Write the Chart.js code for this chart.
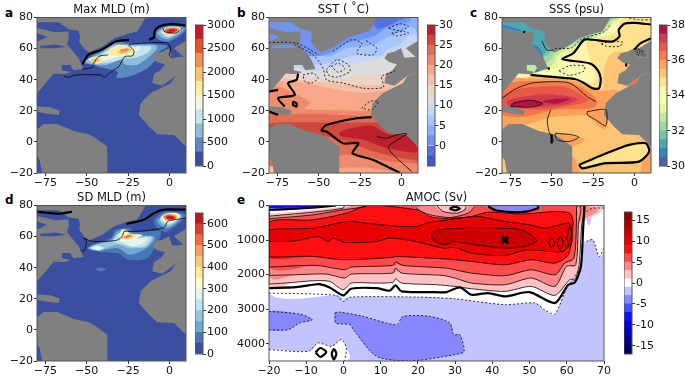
<!DOCTYPE html>
<html>
<head>
<meta charset="utf-8">
<style>
  html, body { margin: 0; padding: 0; background: #fff; overflow: hidden; }
  canvas { position: absolute; }
  .tag { position: absolute; font: bold 12px "DejaVu Sans"; color: #000; }
</style>
<script src="https://cdn.jsdelivr.net/npm/chart.js@4"></script>
</head>
<body>
<div class="tag" style="left:5px;top:6px">a</div>
<div class="tag" style="left:237px;top:6px">b</div>
<div class="tag" style="left:470px;top:6px">c</div>
<div class="tag" style="left:5px;top:193px">d</div>
<div class="tag" style="left:237px;top:193px">e</div>
<script>
// ---- axis values
const mapLonTicks = [-75, -50, -25, 0];
const mapLatTicks = [-20, 0, 20, 40, 60, 80];
const amocLatTicks = [-20, -10, 0, 10, 20, 30, 40, 50, 60, 70];
const amocDepthTicks = [0, 1000, 2000, 3000, 4000];

// ---- colour bar levels and ticks
const mldMaxLevels = [0, 300, 600, 900, 1200, 1500, 1800, 2100, 2400, 2700, 3000];
const mldMaxTicks = [0, 500, 1000, 1500, 2000, 2500, 3000];
const sstLevels = [-5, -2.5, 0, 2.5, 5, 7.5, 10, 12.5, 15, 17.5, 20, 22.5, 25, 27.5, 30];
const sstTicks = [0, 5, 10, 15, 20, 25, 30];
const sssLevels = [30, 30.5, 31, 31.5, 32, 32.5, 33, 33.5, 34, 34.5, 35, 35.5, 36, 36.5, 37, 37.5, 38];
const sssTicks = [30, 32, 34, 36, 38];
const mldSdLevels = [0, 50, 100, 150, 200, 250, 300, 350, 400, 450, 500, 550, 600, 650];
const mldSdTicks = [0, 100, 200, 300, 400, 500, 600];
const amocLevels = [-17, -15, -13, -11, -9, -7, -5, -3, -1, 1, 3, 5, 7, 9, 11, 13, 15, 17];
const amocTicks = [-15, -10, -5, 0, 5, 10, 15];

const mldMaxColors = ['#3b4fa0', '#5a8ac0', '#8fbcdc', '#c6e3ee', '#f0f8dc', '#fdeda3', '#fdbf70', '#f98e52', '#e5502f', '#c41a2b'];
const sstColors = ['#4055c8', '#5572df', '#6f92f3', '#8db0fe', '#aac7fd', '#c6d6f1', '#dddcdc', '#ebd3c6', '#f5c0a7', '#f7a889', '#f08a6c', '#e36c55', '#d0473d', '#bd1f2d'];
const sssColors = ['#5061aa', '#3585bb', '#4fa8b0', '#73c7a5', '#9ed8a4', '#c5e89f', '#e8f59a', '#f7fcb3', '#fff5af', '#fee28e', '#fdc473', '#fba25b', '#f67949', '#e65848', '#d3394f', '#af1446'];
const mldSdColors = ['#3b4fa0', '#4879b6', '#70a9d0', '#96c6e0', '#bfe3ee', '#e3f4ef', '#fbfdce', '#feeb9f', '#fdc679', '#fb9f5a', '#f26d43', '#dc3f2d', '#bf1528'];
const amocColors = ['#000061', '#00008b', '#0000b5', '#0000e0', '#0f0fff', '#4b4bff', '#8787ff', '#c3c3ff', '#ffffff', '#ffc3c3', '#ff8787', '#ff4b4b', '#ff0f0f', '#e80000', '#ca0000', '#ac0000', '#8e0000'];

// ---- land shared by the maps, [lon, lat]
const landParts = [
  [[-80,80],[-14.4,80],[-19.4,71],[-23.5,70],[-32.7,67],[-40.7,61.2],[-48.5,57.5],[-51.5,60],[-54.5,64.4],[-54,67.6],[-55,71.5],[-60.8,72.5],[-66.9,77],[-80,77]],
  [[-80,73.3],[-69,70.5],[-61,71],[-60.8,66.6],[-61.9,62.8],[-54.9,53.8],[-51.9,46.9],[-58,46],[-60,49.5],[-65,49.5],[-65,46],[-60,45],[-62.9,43.5],[-70,44],[-73,40],[-80,31.2]],
  [[-80,22.7],[-72,22.3],[-66.3,20],[-66.9,17.3],[-76,18.4],[-80,19.5]],
  [[-80,8],[-76,11.5],[-67.9,11.5],[-57.8,7],[-48.7,5],[-44.6,2.3],[-37.6,-3],[-37.6,-20],[-77,-20],[-78.4,-11.6],[-80,-9.5]],
  [[10,45],[3.8,42.6],[0.7,37.7],[-4.3,35.1],[-11.4,31.3],[-17.4,24.8],[-18.5,17.3],[-12.3,9.8],[-7.3,4.9],[2.8,4.5],[8.9,-2],[10,-3]],
  [[10,65],[2.7,60.2],[8.4,54.8],[1.8,54.1],[-0.3,60.2],[-4.3,58],[-8.3,57],[-10.3,53.8],[-7.3,51.2],[-2.7,49.9],[-5.3,46.2],[-9.4,43.5],[-10.3,37.7],[-4.3,36.1],[3.8,42.6],[10,45]]
];
// inland water that panel c leaves empty
const hudsonParts = [
  [[-80,69.8],[-73.9,67.6],[-79,64.9],[-80,65]],
  [[-78,61.9],[-69,62.7],[-62,61.2],[-69,60.2],[-78,60.2]]
];
const northSeaPart = [[2.7,60.2],[8.4,54.8],[1.8,54.1],[-0.3,60.2]];
const northSeaMarks = [
  [[1.5,59],[5,57.5],[7,55.5]], [[0.5,58],[4,56.5],[6,55]], [[1,56.5],[3,55.5]], [[2,60],[6,58]]
];

// ---- a, max mixed layer depth: [band, outline]
const mldMaxAreas = [
  [1, [[-51.7,50.6],[-45.7,56],[-37.6,61.4],[-31.5,64.6],[-24.4,63.5],[-13.3,63.5],[-5.3,62.4],[-1.2,61.4],[-7.3,57.1],[-8.3,52.8],[-13.3,47.4],[-21.4,43.1],[-31.5,41],[-31.5,45.3],[-39.6,47.4],[-47.7,49.9]]],
  [1, [[-9.3,70],[-3.2,74.2],[4.8,74.6],[10,73.2],[6.9,68.9],[-0.2,64.6],[-6.3,65.7]]],
  [2, [[-50.7,52.1],[-41.6,57.1],[-33.5,62.4],[-24.4,62.4],[-11.3,62.4],[-7.3,60.3],[-13.3,53.9],[-19.4,49.6],[-26.5,49.6],[-29.5,52.8],[-37.6,49.6],[-45.7,49.6]]],
  [2, [[-7.3,70],[-2.2,73.8],[4.8,74.2],[8.5,72.5],[3.8,68.2],[-2.2,66.1]]],
  [3, [[-49.3,53.2],[-41.6,56],[-35.6,60.3],[-27.5,62.4],[-21.4,61.4],[-11.3,61.4],[-13.3,57.1],[-21.4,53.9],[-26.5,53.9],[-35.6,51],[-43.6,50.6]]],
  [3, [[-5.3,71],[-1.2,73.8],[4.8,73.8],[7.3,72.1],[2.8,68.9],[-1.2,67.4]]],
  [4, [[-48.7,53.2],[-41.6,54.9],[-35.6,59.2],[-30.5,62.4],[-24.4,60.3],[-17.4,61.4],[-22.4,56],[-31.5,54.5],[-37.6,52.8],[-43.6,51.1]]],
  [4, [[-4.2,71.5],[4.8,73.6],[6.9,71.6],[-0.2,68.2]]],
  [5, [[-48.3,53.6],[-42.9,54.6],[-39.9,51.9],[-44.9,50.3]]],
  [5, [[-37.6,58.2],[-30.5,62.4],[-24.4,60.3],[-20.4,59.2],[-22.4,57.1],[-31.5,54.9]]],
  [5, [[-3.8,72],[4.8,73.4],[6,71.6],[-0.2,68.9]]],
  [6, [[-47.7,53.2],[-44.7,53.6],[-41.6,52.4],[-45.7,51.1]]],
  [6, [[-31.5,58.2],[-26.5,60.3],[-22.4,59.2],[-26.5,57.1],[-30.5,56.7]]],
  [6, [[-3.6,72],[0.8,73.8],[5.9,73.2],[4.8,71],[-1.2,68.9]]],
  [7, [[-29.9,59.2],[-25.4,60],[-24.4,59.2],[-28.5,57.5]]],
  [7, [[-3.2,72],[4.8,73.2],[5.3,71.5],[-0.2,69.5]]],
  [8, [[-2.2,72.6],[3.8,73],[4.4,71],[-0.2,69.9]]],
  [9, [[-0.6,72],[2.8,72.5],[3.2,71.2],[0.4,70.6]]]
];
const mldMaxHeavy = [
  [[-52.7,49.8],[-49.3,55.8],[-47.7,56.9],[-41.6,59],[-37.6,61.4],[-32.5,64.6],[-24.4,65.7]],
  [[-12.3,65.7],[-9.3,67.2],[-8.9,71],[-6.3,74.2],[0.8,75.7],[9.9,74.9]]
];
const mldMaxThin = [
  [[-63.8,42.3],[-60.8,41.5],[-56.8,43],[-41.6,43],[-39.2,41.5],[-37.6,43],[-33.5,46.3],[-30.5,48.5],[-27,54.9],[-22.4,55.3],[-21.4,58.5],[-24.4,62.4],[-15.4,63.5],[-1.2,63.5],[0.8,59.2],[-0.2,56],[1.8,53.9]],
  [[-52.7,46.8],[-46.7,47.9],[-45.7,50.6],[-42.6,55],[-37,56]],
  [[-3.9,73],[-3.2,71],[3.8,70],[7.9,73]]
];

// ---- b, sea surface temperature
const sstAreas = [
  [1, [[-17,80],[-14.9,73],[-8.9,74.2],[-0.8,78.5],[3.2,80]]],
  [3, [[-53.3,54.9],[-43.2,57.1],[-33.1,63.5],[-17,67.8],[-8.9,73.2],[3.2,76.4],[10,74.7],[10,-20],[-80,-20],[-80,55]]],
  [4, [[-80,50],[-51.3,54.9],[-43.2,54.9],[-33.1,60.3],[-23,61.4],[-14.9,63.5],[-6.9,67.8],[10,68.2],[10,-20],[-80,-20]]],
  [5, [[-80,45],[-52.3,49.6],[-43.2,50.6],[-31.1,54.9],[-23,56],[-12.9,54.9],[-8.9,59.2],[-2.8,61.4],[10,64.6],[10,-20],[-80,-20]]],
  [6, [[-80,45],[-53.3,45.3],[-43.2,47.4],[-27.1,50.6],[-17,52.8],[-4.8,54.9],[10,56],[10,-20],[-80,-20]]],
  [7, [[-80,42],[-63.4,43.1],[-53.3,41],[-37.2,41],[-23,43.1],[-6.9,44.2],[10,47.4],[10,-20],[-80,-20]]],
  [8, [[-80,38],[-71.5,41],[-62.4,39.9],[-43.2,37.8],[-23,36.7],[-8.9,36.7],[6.3,42.5],[10,43],[10,-20],[-80,-20]]],
  [9, [[-80,34],[-69.5,38.5],[-61.4,38.5],[-43.2,34.5],[-23,31.5],[10,31.5],[10,-20],[-80,-20]]],
  [10, [[-80,33],[-63.4,30.5],[-55.4,24.8],[-58.4,21],[-43.2,20.5],[-19,20],[10,20],[10,-20],[-80,-20]]],
  [11, [[-80,19],[-67.5,18],[-47.3,18],[-19,16.5],[10,16.5],[10,-20],[-80,-20]]],
  [12, [[-80,11],[-73.5,12.5],[-47.3,12.5],[-19,12.5],[10,12.5],[10,-11],[8.3,-12],[-8.9,-8.5],[-23,-4],[-34.1,0.5],[-43.2,3],[-54,4.5],[-80,5]]],
  [13, [[-36,7],[-19,10.5],[-8.9,5.5],[3.2,5.5],[9.5,-6.5],[-8.9,-4],[-23,1.5],[-36,3.5]]],
  [10, [[-39,-9.4],[-23,-8.9],[-8.9,-12.5],[10,-14.5],[10,-20],[-40,-20]]],
  [9, [[-38.2,-17],[-23,-16.5],[-8.9,-18.5],[-2.8,-20],[-40,-20]]],
  [8, [[-80,-16],[-75,-16],[-70,-20],[-80,-20]]]
];
const sstHeavy = [
  [[-62.4,43.8],[-63.4,39.9],[-68.5,37.8],[-64.4,30.3],[-74.5,28.1],[-70.5,22.7]],
  [[-80,32.4],[-74.5,33.5]],
  [[-65.5,26],[-63.4,24.9],[-63.4,22.7],[-65.5,23.8],[-65.5,26]],
  [[-80,19.5],[-74.5,17.4]],
  [[-18,15.9],[-27,15.2],[-45.3,10.9],[-48.3,7.3],[-45.3,6.7],[-35.2,-0.9],[-26,-0.9],[-29.5,-7.3],[-17,-11.6],[-0.8,-20]]
];
const sstThin = [
  [[-14.9,3.4],[-8.9,2.4],[-2.8,4.5],[3.2,5.2],[-7.9,-3],[-4.8,-8.4],[6.3,-19.1]]
];
const sstDashed = [
  [[-42.2,48.5],[-38.2,50.6],[-34.1,47.4],[-38.2,44.8],[-42.2,48.5]],
  [[-45.3,46.4],[-39.2,52.8],[-32.1,49.6],[-31.1,45.3],[-39.2,41.6],[-44.2,43.1],[-45.3,46.4]],
  [[-64.4,62.4],[-53.3,56],[-47.3,47.4],[-45.3,39.9],[-35.2,37.8],[-23,34.5],[-10.9,35.2],[-11.9,42.1],[-3.8,45.3]],
  [[-41.2,58.2],[-30.1,65.7],[-24,63.5],[-27,57],[-17,56],[-14.9,60.3],[-19,63.5],[-22,65.7]],
  [[-59.4,43.1],[-53.4,44.2],[-50.3,41],[-54.3,37.8],[-58.4,38.9],[-59.4,43.1]],
  [[-7.9,73.2],[-0.8,75.9],[4.2,74.2],[-0.8,71.5],[-7.9,73.2]],
  [[-5.9,70],[1.2,71],[4.2,70],[-2.8,68.2],[-5.9,70]],
  [[-24,21.7],[-19,26],[-13.9,26],[-18,20.6],[-24,21.7]],
  [[-80,64],[-63.4,63.5],[-50,56]]
];

// ---- c, sea surface salinity
const sssAreas = [
  [9, [[-62.7,43.1],[-39.5,41],[-25.4,34.5],[-19.4,34.5],[-18.3,47.4],[-13.3,57],[0.8,59.2],[10.3,66.7],[10,80],[-80,80],[-80,43]]],
  [8, [[-62.7,43.1],[-31.5,38.8],[-24.4,37.8],[-23.4,45.3],[-26.4,52.8],[-28.4,64.6],[-11.3,70],[-8.3,78.5],[-7.7,80],[-80,80],[-80,43]]],
  [7, [[-62.7,43.1],[-44.8,42.4],[-32.7,39.8],[-28.3,39.8],[-30.7,45.2],[-40.8,51.6],[-45.2,53.7],[-34.7,61.2],[-29.7,65.5],[-13.3,71],[-11.3,79.6],[-11,80],[-80,80],[-80,43]]],
  [6, [[-60.9,44.7],[-46.8,48.4],[-44.8,53.7],[-37.8,59],[-29.7,63.4],[-21.6,68.7],[-15,75],[-12,80],[-80,80],[-80,45]]],
  [5, [[-56.9,46.3],[-49.8,49.5],[-46.8,54.8],[-41.8,59],[-31.7,63.4],[-19,70],[-13.5,77.5],[-13,80],[-80,80],[-80,47]]],
  [4, [[-54.9,50.6],[-49.8,53.8],[-46.8,58],[-33.7,64.4],[-21,70],[-15,77.5],[-14,80],[-80,80],[-80,51]]],
  [3, [[-54.9,54.9],[-50.8,58],[-47.8,60.2],[-34.7,66.2],[-23,71],[-17,78],[-16,80],[-80,80],[-80,55]]],
  [2, [[-80,80],[-53,75],[-54,66],[-52,60],[-57,55],[-64,60],[-80,60]]],
  [1, [[-61.9,62.8],[-57,60],[-55,54],[-57,55],[-63,60]]],
  [1, [[-80,73.5],[-69,71],[-66,70.5],[-70,72.5],[-80,75.5]]],
  [1, [[-59,47],[-55,48.5],[-54,47],[-60,44.5]]],
  [8, [[-70,44.5],[-64,44.5],[-64,41.5],[-70,41.5]]],
  [11, [[-80,41],[-69.8,41],[-39.5,40],[-21.4,33],[-10,33],[-19.4,20.6],[-27.4,17.4],[-47.6,16.3],[-59.7,13],[-80,8.8]]],
  [11, [[-29.4,19.5],[-17.3,19.5],[-17.3,9],[-21.4,10]]],
  [11, [[-47.6,5.6],[-33.5,3],[-30,1],[-38,-3],[-48,1]]],
  [11, [[-42,-9],[-37,-9.4],[-33,-20],[-42,-20]]],
  [11, [[6,-6],[10,-4],[10,-20],[4,-20]]],
  [9, [[-33.5,-14.8],[-19.4,-8.4],[-3.2,-1.9],[6.9,-0.9],[8.9,-6.2],[2.8,-12.7],[-17.3,-13.7],[-31.5,-17]]],
  [12, [[-80,33.5],[-69.8,38.8],[-39.5,37.8],[-24.4,29.2],[-23.4,22.7],[-30.4,21],[-47.6,20.6],[-64.7,16.3],[-74.8,16.3],[-80,18.5]]],
  [12, [[-4.3,35.6],[3.8,42.6],[5,37]]],
  [13, [[-80,29.2],[-67.7,34.5],[-43.5,35.6],[-30.4,29.2],[-28.4,26],[-41.5,22.7],[-55.6,20.6],[-71.8,21.7],[-80,22.7]]],
  [14, [[-75.8,27],[-55.6,30.7],[-39.5,29.2],[-34.5,27],[-43.5,23.8],[-61.7,22.3],[-74.8,22.7]]],
  [15, [[-73.8,24.9],[-61.7,26.4],[-55.6,24.9],[-61.7,23.2],[-73,23]]],
  [15, [[-55.2,26],[-47.6,27.7],[-38.5,27.7],[-47.6,24.5]]]
];
const sssHeavy = [
  [[-62.7,43.1],[-47.6,41.6],[-35.5,40.3],[-30.4,37.8],[-25.4,34.5],[-21.4,34.5],[-20.4,41],[-22.4,46.4],[-27,50.5],[-43.5,53.2],[-37,57],[-30.4,65.7],[-25,65.7],[-13.3,64.5],[-9,68],[-9.5,72],[-6,76],[0,76.5],[10,75.5]],
  [[10.3,66.7],[3.8,63.5],[-0.2,59.2]],
  [[-33.5,-14.8],[-19.4,-8.4],[-3.2,-1.9],[6.9,-0.9],[8.9,-6.2],[2.8,-12.7],[-17.3,-13.7],[-31.5,-17],[-33.5,-14.8]],
  [[-52,48],[-51.5,46.5]],
  [[-67,71],[-66,70.5]],
  [[-5,50.5],[-5,48.5]],
  [[-50,5],[-50,-1]]
];
const sssThin = [
  [[-80,28],[-72,34],[-61,38],[-39.5,38],[-28.4,29],[-23.4,26]],
  [[-74.8,22.7],[-72.8,25],[-62.7,26.8],[-55.4,24.7],[-62,22.5],[-74.8,22.7]],
  [[-28.4,19.5],[-17.3,20.6],[-17.3,10.4],[-23.4,14.2],[-28.4,17.4],[-28.4,19.5]],
  [[-47.6,5.6],[-37.5,4.5],[-33.5,3],[-39.5,0.2],[-46.6,1.3],[-48,4.5],[-47.6,5.6]],
  [[-50.6,20.6],[-52.6,14.2],[-51.6,6.7],[-48.6,0.2]],
  [[-56,65],[-53,59.2],[-49,59]]
];
const sssDashed = [
  [[-45.6,45.6],[-39.5,48.9],[-30.4,48.9],[-30.4,45.6],[-39.5,42.8],[-45.6,45.6]],
  [[-48,60],[-38,60.5],[-32,66],[-18,71],[-14,76]],
  [[-20,63],[-14,64.8],[-7,64],[-9,61.5],[-17,61.5],[-20,63]],
  [[-3,79.5],[3,78.5],[10,78.5]]
];

// ---- d, standard deviation of mixed layer depth
const mldSdAreas = [
  [1, [[-49.3,52],[-46.7,54.7],[-35.6,59],[-32.5,64.4],[-24.4,65.5],[-21.4,63.3],[-13.3,63.3],[-5.3,63.3],[-7.3,55.8],[-12.3,47.2],[-17.4,45],[-25.5,45.5],[-31.5,49.4],[-41.6,50]]],
  [1, [[-44.6,39],[-41.6,40.1],[-38,39],[-41.6,37.6]]],
  [1, [[-9.3,70.8],[-3.2,75.8],[4.8,75.8],[10.1,73],[-1.2,63.3],[-7.3,65.5]]],
  [2, [[-48.7,52.2],[-46.7,54.3],[-35.6,57.9],[-31.5,63.3],[-25.5,64.4],[-21.4,61.2],[-9.3,60],[-11.3,54.7],[-17.4,50.5],[-24.4,48.4],[-31.5,52.6],[-41.6,51]]],
  [2, [[-7.3,70.8],[-2.2,75.2],[4.8,75.2],[7.9,72.4],[-0.2,65.5],[-5.7,67.2]]],
  [3, [[-48.1,52.2],[-45.7,54.3],[-34.5,57.3],[-30.5,62.2],[-25.5,63.3],[-22.4,60],[-10.3,60],[-13.3,53.6],[-19.4,52.6],[-25.5,52.6],[-31.5,54.7],[-41.6,51.5]]],
  [3, [[-5.7,71.5],[-1.2,74.7],[4.8,74.7],[6.9,72.4],[0.8,67.2],[-4.2,68]]],
  [4, [[-47.7,52.6],[-43.6,54.3],[-39.6,52.6],[-42.6,50.9]]],
  [4, [[-34.5,56.8],[-30.5,62.2],[-25.5,62.2],[-22.4,59],[-11.3,59.4],[-15.4,53.6],[-22.4,53.6],[-31.5,55.8]]],
  [4, [[-5.3,72],[4.8,74.3],[6.5,72.4],[0.8,68],[-3.2,68.7]]],
  [5, [[-47.3,52.6],[-43.6,53.9],[-40.6,52.6],[-43,51.3]]],
  [5, [[-30.5,59],[-29.9,62.2],[-25.9,62.2],[-22.4,58.6],[-13.3,59.4],[-16.4,55.8],[-22.4,53.6],[-28.5,56.9]]],
  [5, [[-4.8,72.8],[4.8,74],[5.9,72.4],[0.8,68.7],[-3.2,69.7]]],
  [6, [[-29.9,62.2],[-25.9,63.7],[-24.4,61.2],[-27.5,59.4]]],
  [6, [[-29.5,59],[-24.4,61.6],[-16.4,61.2],[-22.4,58],[-28.5,56.9]]],
  [6, [[-4.6,73],[-0.2,75],[5.3,74.7],[4.8,70.8],[-2.2,69.7]]],
  [7, [[-29,64.4],[-26.5,64.4],[-25.9,62.2],[-29.1,61.2]]],
  [7, [[-28.9,59],[-24.4,61.8],[-19.4,61.2],[-23.4,58.6],[-27.9,57.9]]],
  [7, [[-4.2,73],[-0.2,74.7],[4.8,74],[4.4,71.2],[-2.2,70]]],
  [8, [[-28.5,59.4],[-24.4,61.6],[-21.4,61.2],[-24.4,59],[-27.9,58.5]]],
  [8, [[-3.8,73],[-0.2,74.5],[4.4,73.8],[4,71.2],[-1.8,70.4]]],
  [9, [[-27.9,59.6],[-24.4,61],[-22.4,60.7],[-24.8,59]]],
  [9, [[-3.6,73],[-0.2,74.3],[4,73.4],[3.6,71.2],[-1.8,70.6]]],
  [10, [[-27.5,59.9],[-24.4,60.9],[-23.4,60.5],[-25.5,59.2]]],
  [10, [[-3.2,73],[-0.2,74],[3.6,73.2],[3.2,71.2],[-1.6,70.8]]],
  [11, [[-2.2,73.2],[-0.2,73.6],[3.2,72.4],[2.8,71.2],[-1.2,71]]],
  [12, [[-1.2,72.9],[2.4,72.9],[2.2,71.4],[-0.8,71.6]]]
];
const mldSdHeavy = [
  [[-80,76],[-66.9,74.7],[-58.8,76]],
  [[-25.9,68.2],[-15.4,70.8],[-9.3,75.1],[-3.2,77.3],[9.9,77.3]]
];
const mldSdThin = [
  [[-53.7,51.5],[-51.7,50.4],[-50.1,56.9],[-51.7,59],[-46.7,56.9],[-32.5,57.5],[-28.5,60],[-27.5,63.3],[-24.4,63.3],[-15.4,63.7],[-3.2,65.9],[-1.2,69.7],[2.8,70.8],[10.1,71.9]]
];

// ---- e, overturning streamfunction: [band, outline], [lat, depth]
const amocAreas = [
  [8, [[-20,0],[70,0],[70,1233],[68.7,1474],[67,992],[65.3,1040],[64.4,1137],[63,1908],[60,2390],[56.8,3141],[54,3016],[51.4,2820],[43.4,2870],[29.9,2700],[20,2650],[2,2650],[-0.1,2775],[-2,2600],[-20,2534]]],
  [6, [[-20,3064],[-11.8,3141],[-8.4,3305],[-11.8,3402],[-14.9,3594],[-20,3594]]],
  [6, [[-2.3,3112],[-1,3083],[5.3,3209],[14.2,3450],[16,3209],[23.2,3209],[28.6,3402],[29.6,3739],[31.3,3739],[32.4,4220],[29.9,4317],[17.8,4500],[8.9,4365],[3,3642],[1.7,3450],[-2,3402]]],
  [8, [[-20,4172],[-9.5,4220],[-6.8,3979],[-3.2,4076],[-0.6,3883],[0.8,4124],[0.3,4500],[-20,4500]]],
  [7, [[64.4,0],[65.3,173],[67,77],[70,77],[70,0]]],
  [7, [[65.3,173],[67,100],[66.2,540],[65.5,511]]],
  [9, [[-20,2274],[-13.5,2226],[-8.2,2178],[-3.7,2197],[-0.1,2438],[2.1,2245],[8.9,2245],[13.3,2226],[14,2120],[15.6,2245],[25,2293],[29.9,2341],[34.4,2409],[43.4,2486],[50.5,2341],[56.8,2602],[60.8,2149],[62.2,2149],[63.3,1715],[64,559],[64.4,0],[-20,0]]],
  [10, [[-20,2024],[-12.7,2004],[-4.6,1985],[0.3,2100],[2.1,1985],[13.3,1956],[14,1812],[15.6,1956],[26.8,2024],[29.9,2100],[34.4,2245],[43.4,2293],[50.5,2100],[56.8,2341],[59.9,1763],[62.4,1715],[63.1,559],[63.3,0],[-20,0]]],
  [11, [[-20,1783],[-7.3,1734],[0.3,1860],[2.1,1783],[13.3,1734],[14,1638],[16,1734],[27.7,1812],[29.9,1860],[34.4,1956],[43.4,2033],[50.5,1860],[56.8,2004],[59.5,1667],[61.9,1522],[62.6,559],[62.6,77],[62.6,0],[-20,0]]],
  [12, [[-20,1494],[-8.2,1474],[-0.1,1571],[13.3,1503],[14,1474],[27.7,1551],[29.9,1571],[34.4,1619],[43.4,1715],[50.5,1571],[56.8,1667],[60.4,1426],[61.5,752],[61.7,463],[60.8,222],[56.8,173],[47.8,250],[38.9,193],[34.4,318],[29.9,366],[23.2,270],[19.6,125],[9.8,0],[5.3,29],[0.8,222],[-8.2,414],[-20,491]]],
  [13, [[-20,1041],[-12.7,1021],[-6.8,896],[-4.1,1041],[-2.8,944],[0.3,1070],[8.9,1041],[12.4,944],[19.6,1041],[26.8,1233],[29.9,1214],[34.4,1378],[43.4,1445],[49.2,1282],[59,1330],[60.8,1041],[61.3,703],[60.4,511],[54.1,655],[50,559],[43.4,463],[35.8,318],[25,463],[22.3,511],[19.6,607],[15.1,607],[6.2,511],[1.2,463],[-8.2,655],[-20,723]]],
  [14, [[25.4,703],[31.2,655],[36.2,636],[41.6,655],[47.8,703],[51.9,1012],[48.8,1185],[43.4,1233],[35.3,1137],[29.9,1041],[26.8,1137],[23.6,925]]],
  [10, [[19.6,77],[23.2,318],[27.7,366],[33.5,222],[35.3,29],[35.3,0],[23.2,0]]],
  [9, [[25,0],[26.8,173],[30.4,222],[32.6,125],[33,0]]],
  [6, [[38.9,0],[41.1,145],[47.8,193],[52.3,77],[52.3,0]]],
  [10, [[-20,385],[-8.2,270],[-0.1,125],[6.2,29],[6.2,0],[-20,0]]],
  [9, [[-20,308],[-8.2,193],[-0.1,77],[0.3,0],[-20,0]]],
  [8, [[-20,231],[-8.2,125],[-0.1,29],[-0.1,0],[-20,0]]],
  [6, [[-20,154],[-8.2,77],[-1.9,0],[-20,0]]],
  [4, [[-20,77],[-12.7,58],[-3.7,0],[-20,0]]]
];
const amocHeavy = [
  [[-20,2390],[-12.7,2361],[-8.2,2293],[-6.4,2274],[-3.7,2370],[-0.1,2602],[2.1,2409],[8.9,2390],[12.4,2467],[14,2313],[15.6,2486],[23.2,2505],[27.7,2505],[31.3,2370],[34.4,2582],[38.9,2534],[43.4,2631],[50,2505],[56.8,2823],[60.4,2293],[62.2,2226],[63.8,1763],[64.4,655],[64.7,77],[64.7,0]],
  [[-7.5,4250],[-6.2,4124],[-4.6,4240],[-6.2,4384],[-7.5,4250]],
  [[-3.2,4288],[-2.6,4153],[-1.9,4288],[-2.6,4461],[-3.2,4288]],
  [[38.9,29],[41.1,145],[47.8,193],[52.3,77],[52.3,0]],
  [[28.5,96],[29.9,30],[31.3,96],[29.9,140],[28.5,96]],
  [[-20,130],[-8.2,60],[-2,0]]
];
const amocThin = [
  [[55.1,1089],[55.9,944],[56.7,1089],[55.9,1214],[55.1,1089]],
  [[57.4,1089],[58.2,877],[59,1089],[58.2,1300],[57.4,1089]],
  [[60,950],[60.8,620],[61.5,950],[60.8,1230],[60,950]],
  [[19.6,77],[23.2,318],[27.7,366],[33.5,222],[35.3,29]],
  [[25,0],[26.8,173],[30.4,222],[32.6,125],[33,0]],
  [[-20,385],[-8.2,270],[-0.1,125],[6.2,29],[6.2,0]],
  [[-20,308],[-8.2,193],[-0.1,77],[0.3,0]]
];
const amocDashed = [
  [[-20,2534],[-2,2600],[-0.1,2775],[2,2650],[20,2650],[29.9,2700],[43.4,2870],[51.4,2820],[54,3016],[56.8,3141],[60,2390],[63,1908]],
  [[65.3,1040],[67,992],[68.7,1474],[70,1233]],
  [[65.3,173],[67,77],[70,77]],
  [[-20,3064],[-11.8,3141],[-8.4,3305],[-11.8,3402],[-14.9,3594],[-20,3594]],
  [[-2.3,3112],[-1,3083],[5.3,3209],[14.2,3450],[16,3209],[23.2,3209],[28.6,3402],[29.6,3739],[31.3,3739],[32.4,4220],[29.9,4317],[17.8,4500],[8.9,4365],[3,3642],[1.7,3450],[-2,3402],[-2.3,3112]],
  [[-20,4172],[-9.5,4220],[-6.8,3979],[-3.2,4076],[-0.6,3883],[0.8,4124],[0.3,4500]]
];
const amocMaximum = [[43.4, 1000]];
const wholeMap = [[-80,-20],[10,-20],[10,80],[-80,80]];
const wholeSection = [[-20,0],[70,0],[70,4500],[-20,4500]];

Chart.defaults.font.family = '"DejaVu Sans"';
Chart.defaults.color = '#111';
Chart.defaults.animation = false;

// fills the outline of a dataset through its scaled points
const areaPlugin = {
  id: 'areaFill',
  beforeDatasetDraw(chart, args) {
    const ds = chart.data.datasets[args.index];
    if (!ds.areaColor) return;
    const pts = args.meta.data;
    const { ctx, chartArea: a } = chart;
    ctx.save();
    ctx.beginPath();
    ctx.rect(a.left, a.top, a.right - a.left, a.bottom - a.top);
    ctx.clip();
    ctx.beginPath();
    const n = pts.length;
    ctx.moveTo(pts[0].x, pts[0].y);
    pts.forEach((p, i) => {
      const q = pts[(i + 1) % n];
      if (ds.sharp) {
        ctx.lineTo(q.x, q.y);
      } else {
        // closed curve through the outline points
        const o = pts[(i - 1 + n) % n];
        const r = pts[(i + 2) % n];
        const t = 0.14;
        ctx.bezierCurveTo(p.x + (q.x - o.x) * t, p.y + (q.y - o.y) * t, q.x - (r.x - p.x) * t, q.y - (r.y - p.y) * t, q.x, q.y);
      }
    });
    ctx.closePath();
    ctx.fillStyle = ds.areaColor;
    ctx.fill();
    ctx.restore();
  }
};

// axes frame on all four sides
const framePlugin = {
  id: 'frame',
  afterDraw(chart) {
    const { ctx, chartArea: a } = chart;
    ctx.save();
    ctx.strokeStyle = '#555';
    ctx.lineWidth = 1;
    ctx.strokeRect(a.left, a.top, a.right - a.left, a.bottom - a.top);
    ctx.restore();
  }
};

const toXY = pts => pts.map(p => ({ x: p[0], y: p[1] }));
const area = (pts, color, sharp) => ({ data: toXY(pts), areaColor: color, sharp: !!sharp, showLine: false, pointRadius: 0 });
const contour = (pts, width, dash) => ({ data: toXY(pts), showLine: true, tension: 0.25, borderColor: '#000', borderWidth: width, borderDash: dash || [], pointRadius: 0, fill: false });
const minusSign = v => String(v).replace('-', '\u2212');

function stacked(list) {
  list.forEach((ds, i) => { ds.order = -i; });
  return list;
}

function panel(box, title, limits, ticks, datasets, reverseY) {
  const canvas = document.createElement('canvas');
  canvas.width = box.w;
  canvas.height = 193;
  canvas.style.left = box.x + 'px';
  canvas.style.top = box.y + 'px';
  document.body.appendChild(canvas);
  const tickStyle = { font: { size: 11 }, padding: 1, autoSkip: false, maxRotation: 0, callback: minusSign };
  const gridStyle = { drawOnChartArea: false, tickLength: 3, color: '#333' };
  return new Chart(canvas, {
    type: 'scatter',
    data: { datasets: stacked(datasets) },
    plugins: [areaPlugin, framePlugin],
    options: {
      responsive: false,
      events: [],
      layout: { padding: { left: 0, right: 32, top: 0, bottom: 0 } },
      plugins: {
        legend: { display: false },
        tooltip: { enabled: false },
        title: { display: true, text: title, fullSize: false, font: { size: 11.5, weight: 'normal' }, color: '#111', padding: { top: 3.2, bottom: 0.5 } }
      },
      scales: {
        x: {
          type: 'linear', min: limits[0], max: limits[1],
          grid: gridStyle, border: { display: false }, ticks: tickStyle,
          afterBuildTicks: s => { s.ticks = ticks[0].map(v => ({ value: v })); },
          afterFit: s => { s.height = 20; }
        },
        y: {
          type: 'linear', min: limits[2], max: limits[3], reverse: !!reverseY,
          grid: gridStyle, border: { display: false }, ticks: tickStyle,
          afterBuildTicks: s => { s.ticks = ticks[1].map(v => ({ value: v })); },
          afterFit: s => { s.width = 32; }
        }
      }
    }
  });
}

function colorBar(box, levels, colors, ticks, plain) {
  const canvas = document.createElement('canvas');
  canvas.width = 42;
  canvas.height = box.h + 20;
  canvas.style.left = box.x + 'px';
  canvas.style.top = (box.y - 10) + 'px';
  document.body.appendChild(canvas);
  return new Chart(canvas, {
    type: 'bar',
    data: {
      labels: [''],
      datasets: colors.map((c, i) => ({
        data: [[levels[i], levels[i + 1]]], backgroundColor: c,
        grouped: false, barPercentage: 1, categoryPercentage: 1, borderWidth: 0
      }))
    },
    plugins: [framePlugin],
    options: {
      responsive: false,
      events: [],
      layout: { padding: { top: 10, bottom: 10, left: 0, right: 0 } },
      plugins: { legend: { display: false }, tooltip: { enabled: false } },
      scales: {
        x: { display: false },
        y: {
          position: 'right', min: levels[0], max: levels[levels.length - 1],
          grid: { drawOnChartArea: false, tickLength: 3, color: '#333' }, border: { display: false },
          ticks: { font: { size: 11 }, padding: 1, callback: plain ? (v => String(v)) : minusSign },
          afterBuildTicks: s => { s.ticks = ticks.map(v => ({ value: v })); },
          afterFit: s => { s.width = 34; }
        }
      }
    }
  });
}

function mapDatasets(areas, colors, baseBand, waterBand, heavy, thin, dashed) {
  const list = [area(wholeMap, colors[baseBand], true)];
  areas.forEach(a => list.push(area(a[1], colors[a[0]])));
  landParts.forEach(p => list.push(area(p, '#808080', true)));
  if (waterBand !== null) {
    hudsonParts.forEach(p => list.push(area(p, colors[waterBand], true)));
  } else {
    list.push(area(northSeaPart, '#808080', true));
    northSeaMarks.forEach(p => list.push(contour(p, 1, [1, 1])));
  }
  heavy.forEach(p => list.push(contour(p, 2.2)));
  thin.forEach(p => list.push(contour(p, 0.8)));
  dashed.forEach(p => list.push(contour(p, 0.8, [2, 2])));
  return list;
}

const mapLimits = [-80, 10, -20, 80];
const mapTicks = [mapLonTicks, mapLatTicks];

panel({ x: 5, y: 0, w: 213 }, 'Max MLD (m)', mapLimits, mapTicks, mapDatasets(mldMaxAreas, mldMaxColors, 0, 0, mldMaxHeavy, mldMaxThin, []));
panel({ x: 237, y: 0, w: 213 }, 'SST ( \u02daC)', mapLimits, mapTicks, mapDatasets(sstAreas, sstColors, 2, 2, sstHeavy, sstThin, sstDashed));
panel({ x: 470, y: 0, w: 213 }, 'SSS (psu)', mapLimits, mapTicks, mapDatasets(sssAreas, sssColors, 10, null, sssHeavy, sssThin, sssDashed));
panel({ x: 5, y: 188, w: 213 }, 'SD MLD (m)', mapLimits, mapTicks, mapDatasets(mldSdAreas, mldSdColors, 0, 0, mldSdHeavy, mldSdThin, []));

const amocSets = [area(wholeSection, amocColors[7], true)];
amocAreas.forEach(a => amocSets.push(area(a[1], amocColors[a[0]])));
amocHeavy.forEach(p => amocSets.push(contour(p, 2.2)));
amocThin.forEach(p => amocSets.push(contour(p, 0.8)));
amocAreas.slice(6, 12).forEach(a => amocSets.push(contour(a[1].concat([a[1][0]]), 0.8)));
amocDashed.forEach(p => amocSets.push(contour(p, 0.8, [2, 2])));
amocSets.push({ data: toXY(amocMaximum), pointStyle: 'crossRot', pointRadius: 4.5, borderColor: '#000', borderWidth: 3, showLine: false });
panel({ x: 237, y: 188, w: 399 }, 'AMOC (Sv)', [-20, 70, 0, 4500], [amocLatTicks, amocDepthTicks], amocSets, true);

colorBar({ x: 195, y: 25, h: 141 }, mldMaxLevels, mldMaxColors, mldMaxTicks);
colorBar({ x: 427, y: 25, h: 141 }, sstLevels, sstColors, sstTicks);
colorBar({ x: 659, y: 25, h: 141 }, sssLevels, sssColors, sssTicks);
colorBar({ x: 195, y: 213, h: 141 }, mldSdLevels, mldSdColors, mldSdTicks);
colorBar({ x: 624, y: 212, h: 142 }, amocLevels, amocColors, amocTicks, true);
</script>
</body>
</html>
